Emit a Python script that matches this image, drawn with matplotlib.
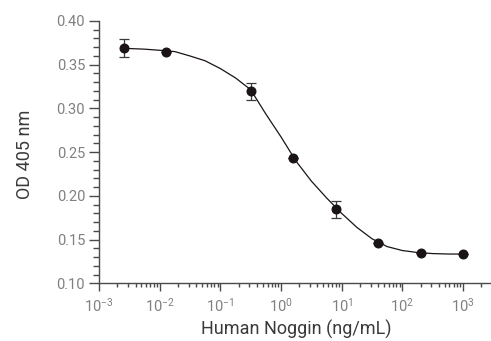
import matplotlib
matplotlib.use("Agg")
import matplotlib.pyplot as plt
from matplotlib.ticker import LogLocator, MultipleLocator, LogFormatterSciNotation

# measured points (ng/mL, OD 405)
conc = [0.00256, 0.0128, 0.32, 1.6, 8, 40, 200, 1000]
od = [0.369, 0.3645, 0.3195, 0.243, 0.1845, 0.146, 0.1348, 0.134]
err = [0.010, 0.0, 0.0097, 0.0, 0.010, 0.0, 0.0, 0.0]

# fitted curve
curve_x = [0.0025, 0.0056, 0.01, 0.0178, 0.0316, 0.0562, 0.1, 0.178, 0.316,
           0.562, 1, 1.78, 3.16, 5.62, 10, 17.8, 31.6, 56.2, 100, 178, 316,
           562, 1000]
curve_y = [0.3688, 0.3678, 0.3665, 0.3650, 0.3600, 0.3545, 0.3456, 0.3349,
           0.3215, 0.2937, 0.2675, 0.2395, 0.2170, 0.1978, 0.1800, 0.1640,
           0.1510, 0.1420, 0.1375, 0.1352, 0.1340, 0.1335, 0.1334]

plt.rcParams['font.family'] = ['Roboto', 'DejaVu Sans']
plt.rcParams['mathtext.fontset'] = 'custom'
plt.rcParams['mathtext.rm'] = 'Roboto'

fig = plt.figure(figsize=(4.91, 3.41), dpi=100)
ax = fig.add_axes([99/491, 57.7/341, 392/491, 262.3/341])

ax.plot(curve_x, curve_y, color='#1a1416', lw=0.9, zorder=2)
ax.errorbar(conc, od, yerr=err, fmt='o', color='#1a1416', ms=6.2,
            ecolor='#3a3a3a', elinewidth=0.9, capsize=3.5, capthick=0.9, zorder=3)

ax.set_xscale('log')
ax.set_xlim(1e-3, 2.9e3)
ax.set_ylim(0.10, 0.40)

ax.xaxis.set_major_locator(LogLocator(base=10, numticks=20))
ax.xaxis.set_minor_locator(LogLocator(base=10, subs=range(2, 10), numticks=20))
ax.xaxis.set_major_formatter(LogFormatterSciNotation())
ax.yaxis.set_major_locator(MultipleLocator(0.05))
ax.yaxis.set_minor_locator(MultipleLocator(0.01))
ax.yaxis.set_major_formatter(plt.FormatStrFormatter('%.2f'))

for s in ['top', 'right']:
    ax.spines[s].set_visible(False)
for s in ['left', 'bottom']:
    ax.spines[s].set_color('#4a4a4a')
    ax.spines[s].set_linewidth(1.0)

ax.tick_params(axis='both', which='both', color='#4a4a4a', width=1.0,
               labelcolor='#808080', labelsize=10.5, direction='out')
ax.tick_params(axis='y', which='major', length=7, pad=3)
ax.tick_params(axis='y', which='minor', length=4.5)
ax.tick_params(axis='x', which='major', length=5.5, pad=4)
ax.tick_params(axis='x', which='minor', length=3)

ax.set_xlabel('Human Noggin (ng/mL)', fontsize=13, color='#3a3a3a')
ax.set_ylabel('OD 405 nm', fontsize=13, color='#3a3a3a')
ax.xaxis.set_label_coords((296 - 99) / 392, (283.3 - 320) / 262.3)
ax.yaxis.set_label_coords((34 - 99) / 392, (283.3 - 154) / 262.3)

fig.savefig('out.png', dpi=100)
